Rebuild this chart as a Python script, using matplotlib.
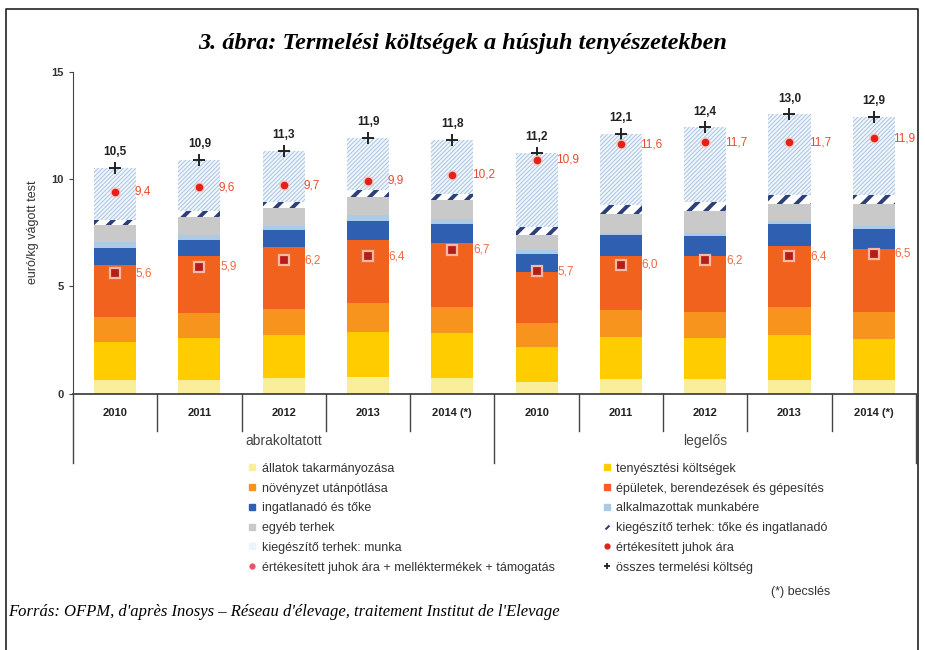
import numpy as np
import matplotlib
matplotlib.use("Agg")
import matplotlib.pyplot as plt
from matplotlib.patches import Patch
from matplotlib.lines import Line2D

plt.rcParams['font.family'] = ['Liberation Sans', 'DejaVu Sans']

# categories
years = ["2010", "2011", "2012", "2013", "2014 (*)", "2010", "2011", "2012", "2013", "2014 (*)"]
groups = ["abrakoltatott", "legelős"]

# stacked cost components (euro/kg)
takarmany = [0.65, 0.65, 0.70, 0.78, 0.74, 0.55, 0.66, 0.66, 0.63, 0.63]
tenyesztes = [1.75, 1.92, 2.02, 2.09, 2.09, 1.63, 1.95, 1.91, 2.09, 1.89]
novenyzet = [1.16, 1.16, 1.20, 1.35, 1.21, 1.12, 1.27, 1.23, 1.29, 1.28]
epuletek = [2.42, 2.67, 2.91, 2.95, 2.98, 2.37, 2.52, 2.60, 2.85, 2.95]
ingatlan = [0.82, 0.77, 0.77, 0.85, 0.86, 0.85, 0.97, 0.93, 1.02, 0.93]
munkaber = [0.26, 0.20, 0.19, 0.28, 0.27, 0.15, 0.11, 0.15, 0.16, 0.11]
egyeb = [0.78, 0.85, 0.87, 0.85, 0.85, 0.70, 0.87, 1.02, 0.77, 1.06]
kieg_toke = [0.26, 0.28, 0.26, 0.32, 0.31, 0.39, 0.42, 0.42, 0.42, 0.38]
kieg_munka = [2.40, 2.40, 2.38, 2.43, 2.49, 3.44, 3.33, 3.48, 3.77, 3.67]

# markers
osszes = [10.5, 10.9, 11.3, 11.9, 11.8, 11.2, 12.1, 12.4, 13.0, 12.9]
juh_plusz = [9.4, 9.6, 9.7, 9.9, 10.2, 10.9, 11.6, 11.7, 11.7, 11.9]
juh_ar = [5.6, 5.9, 6.2, 6.4, 6.7, 5.7, 6.0, 6.2, 6.4, 6.5]

layers = [
    (takarmany, "állatok takarmányozása", "#fbee9a", None, None),
    (tenyesztes, "tenyésztési költségek", "#ffcc00", None, None),
    (novenyzet, "növényzet utánpótlása", "#f7941d", None, None),
    (epuletek, "épületek, berendezések és gépesítés", "#f0621e", None, None),
    (ingatlan, "ingatlanadó és tőke", "#2f5fb0", None, None),
    (munkaber, "alkalmazottak munkabére", "#a9cbe8", None, None),
    (egyeb, "egyéb terhek", "#c9c9c9", None, None),
    (kieg_toke, "kiegészítő terhek: tőke és ingatlanadó", "white", "#2c3f78", 2.8),
    (kieg_munka, "kiegészítő terhek: munka", "#f1f6fc", "#a7c4e2", 0.7),
]

fig = plt.figure(figsize=(9.25, 6.5), dpi=100)
ax = fig.add_axes([0.0789, 0.3946, 0.9113, 0.4954])

x = np.arange(len(years))
bottom = np.zeros(len(years))
for vals, name, col, hcol, hlw in layers:
    vals = np.array(vals)
    if hcol is None:
        ax.bar(x, vals, 0.5, bottom=bottom, color=col, linewidth=0)
    else:
        plt.rcParams['hatch.linewidth'] = hlw
        ax.bar(x, vals, 0.5, bottom=bottom, color=col, edgecolor=hcol,
               hatch='//' if hlw > 1 else '////////', linewidth=0)
    bottom += vals

ax.plot(x, osszes, linestyle='none', marker='+', color='#222222', ms=8, mew=1.4, zorder=5)
ax.plot(x, juh_plusz, linestyle='none', marker='o', color='#e3201c', ms=6.5,
        mec='#f8c8c0', mew=1.0, zorder=5)
ax.plot(x, juh_ar, linestyle='none', marker='s', mfc='#b51d18', mec='#f7b9a6',
        ms=7, mew=1.6, zorder=5)

for i in range(len(years)):
    ax.annotate(f"{osszes[i]:.1f}".replace('.', ','), (x[i], osszes[i]), xytext=(0, 7),
                textcoords='offset points', ha='center', va='bottom', fontsize=8.5,
                fontweight='bold', color='#222222')
    ax.annotate(f"{juh_plusz[i]:.1f}".replace('.', ','), (x[i], juh_plusz[i]), xytext=(14, 0),
                textcoords='offset points', ha='left', va='center', fontsize=8.5,
                color='#ea4a2e')
    ax.annotate(f"{juh_ar[i]:.1f}".replace('.', ','), (x[i], juh_ar[i]), xytext=(15, 0),
                textcoords='offset points', ha='left', va='center', fontsize=8.5,
                color='#ee6a44')

ax.set_xlim(-0.5, len(years) - 0.5)
ax.set_ylim(0, 15)
ax.set_yticks([0, 5, 10, 15])
ax.tick_params(axis='y', labelsize=8, length=3, color='#444444', labelcolor='#333333')
for lbl in ax.get_yticklabels():
    lbl.set_fontweight('bold')
ax.set_xticks([])
ax.spines['top'].set_visible(False)
ax.spines['right'].set_visible(False)
ax.spines['left'].set_color('#444444')
ax.spines['bottom'].set_color('#444444')
ax.spines['bottom'].set_linewidth(1.3)
ax.set_ylabel("euró/kg vágott test", fontsize=9, color='#333333', labelpad=9)

# category box under the axis
tr = ax.get_xaxis_transform()
for k in range(len(years) + 1):
    xd = k - 0.5
    long = k in (0, 5, 10)
    ax.plot([xd, xd], [0, -0.217 if long else -0.116], transform=tr, color='#444444',
            lw=1.0, clip_on=False)
for i, yr in enumerate(years):
    ax.text(i, -0.06, yr, transform=tr, ha='center', va='center', fontsize=8,
            fontweight='bold', color='#222222')
for j, g in enumerate(groups):
    ax.text(2 + 5 * j, -0.148, g, transform=tr, ha='center', va='center', fontsize=10,
            color='#444444')

# legend in two columns
def handle(col, hcol=None):
    if hcol is None:
        return Line2D([], [], linestyle='none', marker='s', ms=5, color=col)
    return Patch(facecolor='white', edgecolor=hcol, hatch='///', linewidth=0)

left_h = [handle(layers[0][2]), handle(layers[2][2]), handle(layers[4][2]),
          handle(layers[6][2]), handle('#eef3f8'),
          Line2D([], [], linestyle='none', marker='o', ms=3.5, color='#f0506a')]
left_l = [layers[0][1], layers[2][1], layers[4][1], layers[6][1], layers[8][1],
          "értékesített juhok ára + melléktermékek + támogatás"]
right_h = [handle(layers[1][2]), handle(layers[3][2]), handle(layers[5][2]),
           Line2D([], [], linestyle='none', marker=(2, 0, -45), ms=4, mew=1.5, color='#2c3f78'),
           Line2D([], [], linestyle='none', marker='o', ms=3.5, color='#e3201c'),
           Line2D([], [], linestyle='none', marker='+', ms=5, mew=1.3, color='#222222')]
right_l = [layers[1][1], layers[3][1], layers[5][1], layers[7][1],
           "értékesített juhok ára", "összes termelési költség"]

for hs, ls, xpos in [(left_h, left_l, 0.268), (right_h, right_l, 0.651)]:
    fig.legend(hs, ls, loc='upper left', bbox_to_anchor=(xpos, 0.288), frameon=False,
               fontsize=9, handlelength=0.7, handletextpad=0.4, labelspacing=0.62,
               borderpad=0, borderaxespad=0, labelcolor='#333333')

fig.text(0.5, 0.933, "3. ábra: Termelési költségek a húsjuh tenyészetekben",
         ha='center', va='center', fontsize=17.5, fontweight='bold', fontstyle='italic',
         family=['Liberation Serif', 'DejaVu Serif'])
fig.text(0.833, 0.09, "(*) becslés", ha='left', va='center', fontsize=9, color='#333333')
fig.text(0.009, 0.058, "Forrás: OFPM, d'après Inosys – Réseau d'élevage, traitement Institut de l'Elevage",
         ha='left', va='center', fontsize=12, fontstyle='italic',
         family=['Liberation Serif', 'DejaVu Serif'])

# outer frame
fig.add_artist(Line2D([0.0065, 0.0065, 0.9925, 0.9925], [0.0, 0.986, 0.986, 0.0],
                      transform=fig.transFigure, color='#222222', lw=1.2))

fig.savefig("out.png", dpi=100)
